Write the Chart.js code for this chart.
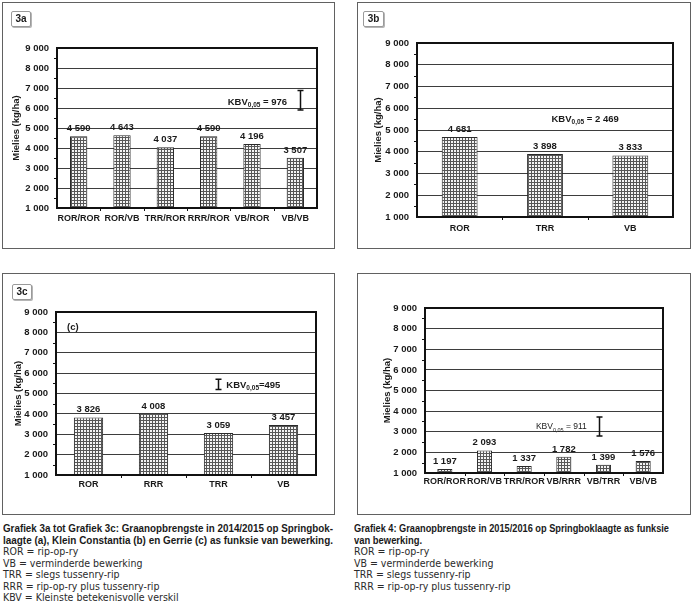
<!DOCTYPE html>
<html>
<head>
<meta charset="utf-8">
<script src="https://cdn.jsdelivr.net/npm/chart.js@4.4.0/dist/chart.umd.min.js"></script>
<style>
  body { margin: 0; width: 700px; height: 610px; background: #fff; position: relative; overflow: hidden;
         font-family: "Liberation Sans", Arial, sans-serif; color: #1a1a1a; }
  .panel { position: absolute; border: 1px solid #616161; box-sizing: border-box; }
  .wrap { position: absolute; }
  .tag { position: absolute; border: 1px solid #9a9a9a; border-radius: 2px; box-shadow: 1px 1px 0 #b5b5b5;
         font: bold 10px "Liberation Sans", Arial, sans-serif; text-align: center; line-height: 13px; background: #fff; }
  .cap { position: absolute; color: #1a1a1a; }
  .ln { width: max-content; white-space: nowrap; transform-origin: 0 0; height: 11.5px; line-height: 11.5px;
        font: 10.5px "DejaVu Sans Condensed", "DejaVu Sans", sans-serif; font-stretch: condensed; color: #2a2a2a; }
  .ln.b { font: bold 10.5px "Liberation Sans", Arial, sans-serif; color: #1a1a1a; }
</style>
</head>
<body>

<div class="panel" style="left:2px;top:2px;width:333px;height:247px"></div>
<div class="panel" style="left:357px;top:2px;width:334px;height:247px"></div>
<div class="panel" style="left:2px;top:273px;width:333px;height:242px"></div>
<div class="panel" style="left:357px;top:273px;width:334px;height:242px"></div>

<div class="wrap" id="w3a"><canvas id="c3a"></canvas></div>
<div class="wrap" id="w3b"><canvas id="c3b"></canvas></div>
<div class="wrap" id="w3c"><canvas id="c3c"></canvas></div>
<div class="wrap" id="w4"><canvas id="c4"></canvas></div>

<div class="tag" style="left:11px;top:11px;width:18px;height:14px">3a</div>
<div class="tag" style="left:363px;top:11px;width:19px;height:14px">3b</div>
<div class="tag" style="left:12px;top:284px;width:18px;height:14px">3c</div>

<div class="cap" style="left:3px;top:522px">
  <div class="ln b" data-w="330">Grafiek 3a tot Grafiek 3c: Graanopbrengste in 2014/2015 op Springbok-</div>
  <div class="ln b" data-w="330">laagte (a), Klein Constantia (b) en Gerrie (c) as funksie van bewerking.</div>
  <div class="ln">ROR = rip-op-ry</div>
  <div class="ln">VB = verminderde bewerking</div>
  <div class="ln">TRR = slegs tussenry-rip</div>
  <div class="ln">RRR = rip-op-ry plus tussenry-rip</div>
  <div class="ln">KBV = Kleinste betekenisvolle verskil</div>
</div>
<div class="cap" style="left:354px;top:522px">
  <div class="ln b" data-w="315">Grafiek 4: Graanopbrengste in 2015/2016 op Springboklaagte as funksie</div>
  <div class="ln b" data-w="68">van bewerking.</div>
  <div class="ln">ROR = rip-op-ry</div>
  <div class="ln">VB = verminderde bewerking</div>
  <div class="ln">TRR = slegs tussenry-rip</div>
  <div class="ln">RRR = rip-op-ry plus tussenry-rip</div>
</div>

<script>
// ---- data ----
const cats3a = ['ROR/ROR', 'ROR/VB', 'TRR/ROR', 'RRR/ROR', 'VB/ROR', 'VB/VB'];
const yield3a = [4590, 4643, 4037, 4590, 4196, 3507];

const cats3b = ['ROR', 'TRR', 'VB'];
const yield3b = [4681, 3898, 3833];

const cats3c = ['ROR', 'RRR', 'TRR', 'VB'];
const yield3c = [3826, 4008, 3059, 3457];

const cats4 = ['ROR/ROR', 'ROR/VB', 'TRR/ROR', 'VB/RRR', 'VB/TRR', 'VB/VB'];
const yield4 = [1197, 2093, 1337, 1782, 1399, 1576];

const yMin = 1000, yMax = 9000, yStep = 1000;

// KBV (LSD) values and the bar that shows them (in data units)
const kbv3a = { text: '976', lo: 5900, hi: 6880 };
const kbv3b = { text: '2 469' };
const kbv3c = { text: '495', lo: 5200, hi: 5695 };
const kbv4 = { text: '911', lo: 2800, hi: 3711 };

// ---- helpers ----
const fmt = v => String(v).replace(/\B(?=(\d{3})+(?!\d))/g, ' ');
const FONT = '"Liberation Sans", Arial, sans-serif';
Chart.defaults.font.family = FONT;
Chart.defaults.color = '#1a1a1a';

// squeeze the bold caption lines to the widths they have in the print
document.querySelectorAll('.ln[data-w]').forEach(el => {
  const w = el.getBoundingClientRect().width;
  el.style.transform = 'scaleX(' + (+el.dataset.w / w) + ')';
});

function hatch() {
  const c = document.createElement('canvas');
  c.width = 3; c.height = 3;
  const g = c.getContext('2d');
  g.fillStyle = '#f4f4f4'; g.fillRect(0, 0, 3, 3);
  g.fillStyle = '#575757'; g.fillRect(0, 0, 3, 1); g.fillRect(0, 0, 1, 3);
  return g.createPattern(c, 'repeat');
}

function drawKbv(ctx, x, y, sub, rest, align, bold, size) {
  const w = bold ? 'bold ' : '';
  const f1 = w + size + 'px ' + FONT, f2 = w + (size - 3) + 'px ' + FONT;
  ctx.font = f1; const a = ctx.measureText('KBV').width, c = ctx.measureText(rest).width;
  ctx.font = f2; const b = ctx.measureText(sub).width;
  const tot = a + b + c;
  let x0 = align === 'right' ? x - tot : align === 'center' ? x - tot / 2 : x;
  ctx.textAlign = 'left'; ctx.textBaseline = 'middle';
  ctx.font = f1; ctx.fillText('KBV', x0, y);
  ctx.font = f2; ctx.fillText(sub, x0 + a, y + 3);
  ctx.font = f1; ctx.fillText(rest, x0 + a + b, y);
}

const decor = {
  id: 'decor',
  afterDatasetsDraw(chart, args, opts) {
    const { ctx, chartArea: ar, scales: { x, y } } = chart;
    ctx.save();
    // value labels
    const meta = chart.getDatasetMeta(0);
    ctx.fillStyle = '#1a1a1a';
    ctx.font = 'bold 9.5px ' + FONT;
    ctx.textAlign = 'center'; ctx.textBaseline = 'bottom';
    meta.data.forEach((bar, i) => {
      ctx.fillText(fmt(chart.data.datasets[0].data[i]), bar.x, bar.y - 3);
    });
    // frame
    ctx.strokeStyle = '#111'; ctx.lineWidth = 2;
    ctx.strokeRect(ar.left, ar.top, ar.right - ar.left, ar.bottom - ar.top);
    // minor ticks
    ctx.lineWidth = 1;
    ctx.beginPath();
    for (let v = yMin + yStep / 2; v < yMax; v += yStep) {
      const py = Math.round(y.getPixelForValue(v)) + 0.5;
      ctx.moveTo(ar.left - 3, py); ctx.lineTo(ar.left, py);
    }
    const n = chart.data.labels.length;
    for (let i = 1; i < n; i++) {
      const px = Math.round(x.getPixelForValue(i - 0.5)) + 0.5;
      ctx.moveTo(px, ar.bottom); ctx.lineTo(px, ar.bottom + 3);
    }
    ctx.stroke();
    // KBV
    const k = opts.kbv;
    if (k) {
      if (k.bar) {
        const bx = Math.round(x.getPixelForValue(k.bar.x)) + 0.5;
        const y1 = y.getPixelForValue(k.bar.lo), y2 = y.getPixelForValue(k.bar.hi);
        ctx.lineWidth = 1.5;
        ctx.beginPath();
        ctx.moveTo(bx, y1); ctx.lineTo(bx, y2);
        ctx.moveTo(bx - 3, y1); ctx.lineTo(bx + 3, y1);
        ctx.moveTo(bx - 3, y2); ctx.lineTo(bx + 3, y2);
        ctx.stroke();
      }
      drawKbv(ctx, x.getPixelForValue(k.tx), y.getPixelForValue(k.ty), '0,05', k.rest,
              k.align, k.bold, k.size);
    }
    if (opts.note) {
      ctx.font = 'bold 9.5px ' + FONT; ctx.textAlign = 'left'; ctx.textBaseline = 'middle';
      ctx.fillText(opts.note.text, x.getPixelForValue(opts.note.x), y.getPixelForValue(opts.note.y));
    }
    ctx.restore();
  }
};

function makeChart(id, box, area, titleX, xGap, labels, data, barPct, extra) {
  const wrap = document.getElementById('w' + id);
  wrap.style.left = box.x + 'px'; wrap.style.top = box.y + 'px';
  wrap.style.width = box.w + 'px'; wrap.style.height = box.h + 'px';
  const pl = 2, xH = 20;
  const yW = area.l - box.x - pl;
  return new Chart(document.getElementById('c' + id), {
    type: 'bar',
    data: {
      labels: labels,
      datasets: [{
        data: data,
        backgroundColor: hatch(),
        borderColor: '#2a2a2a',
        borderWidth: 1,
        barPercentage: barPct,
        categoryPercentage: 1
      }]
    },
    options: {
      responsive: true,
      maintainAspectRatio: false,
      animation: false,
      events: [],
      layout: {
        padding: {
          left: pl,
          top: area.t - box.y,
          right: box.x + box.w - area.r,
          bottom: box.y + box.h - area.b - xH
        }
      },
      plugins: { legend: { display: false }, tooltip: { enabled: false }, decor: extra },
      scales: {
        x: {
          grid: { display: false, drawTicks: false },
          border: { display: false },
          ticks: { padding: xGap, font: { size: 9, weight: 'bold' }, color: '#1a1a1a', maxRotation: 0, autoSkip: false },
          afterFit: s => { s.height = xH; s.paddingLeft = 0; s.paddingRight = 0; }
        },
        y: {
          min: yMin, max: yMax,
          grid: { color: '#3d3d3d', lineWidth: 1, drawTicks: false },
          border: { display: false },
          ticks: { stepSize: yStep, padding: 8, font: { size: 9.5, weight: 'bold' }, color: '#1a1a1a', callback: v => fmt(v) },
          title: {
            display: true, text: 'Mielies (kg/ha)', color: '#1a1a1a',
            font: { size: 9.5, weight: 'bold' },
            padding: { top: titleX - box.x - pl - 5.7, bottom: 0 }
          },
          afterFit: s => { s.width = yW; s.paddingTop = 0; s.paddingBottom = 0; }
        }
      }
    },
    plugins: [decor]
  });
}

makeChart('3a', { x: 2, y: 2, w: 333, h: 247 }, { l: 57, t: 48, r: 317, b: 208 }, 16, 5,
  cats3a, yield3a, 0.4,
  { kbv: { bar: { x: 5.1, lo: kbv3a.lo, hi: kbv3a.hi }, tx: 4.81, ty: 6300, rest: ' = ' + kbv3a.text, align: 'right', bold: true, size: 9.5 } });

makeChart('3b', { x: 357, y: 2, w: 334, h: 247 }, { l: 417, t: 43, r: 673, b: 217 }, 378, 6,
  cats3b, yield3b, 0.42,
  { kbv: { tx: 1.47, ty: 5500, rest: ' = ' + kbv3b.text, align: 'center', bold: true, size: 9.5 } });

makeChart('3c', { x: 2, y: 273, w: 333, h: 242 }, { l: 56, t: 312, r: 316, b: 475 }, 18, 4,
  cats3c, yield3c, 0.45,
  { kbv: { bar: { x: 1.99, lo: kbv3c.lo, hi: kbv3c.hi }, tx: 2.12, ty: 5420, rest: '=' + kbv3c.text, align: 'left', bold: true, size: 9.5 },
    note: { text: '(c)', x: -0.33, y: 8250 } });

makeChart('4', { x: 357, y: 273, w: 334, h: 242 }, { l: 425, t: 308, r: 663, b: 473 }, 387, 3,
  cats4, yield4, 0.38,
  { kbv: { bar: { x: 3.88, lo: kbv4.lo, hi: kbv4.hi }, tx: 3.58, ty: 3230, rest: ' = ' + kbv4.text, align: 'right', bold: false, size: 8.5 } });
</script>
</body>
</html>
